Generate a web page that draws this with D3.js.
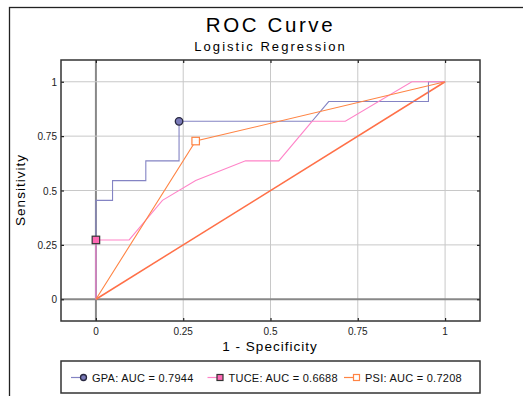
<!DOCTYPE html>
<html>
<head>
<meta charset="utf-8">
<script src="https://cdn.jsdelivr.net/npm/d3@7"></script>
<style>
html,body{margin:0;padding:0;background:#fff;overflow:hidden;}
svg{display:block;font-family:"Liberation Sans",Arial,sans-serif;}
</style>
</head>
<body>
<svg id="chart" width="523" height="396"></svg>
<script>
const titleText = "ROC Curve";
const subtitleText = "Logistic Regression";
const xLabel = "1 - Specificity";
const yLabel = "Sensitivity";
const xTicks = [0, 0.25, 0.5, 0.75, 1];
const yTicks = [0, 0.25, 0.5, 0.75, 1];
const tickLabels = ["0", "0.25", "0.5", "0.75", "1"];

const seriesNames = ["GPA: AUC = 0.7944", "TUCE: AUC = 0.6688", "PSI: AUC = 0.7208"];
const gpaFpr = [0, 0, 0.0476, 0.0476, 0.1429, 0.1429, 0.2381, 0.2381, 0.6190, 0.6667, 0.9524, 0.9524, 1];
const gpaTpr = [0, 0.4545, 0.4545, 0.5455, 0.5455, 0.6364, 0.6364, 0.8182, 0.8182, 0.9091, 0.9091, 1, 1];
const tuceFpr = [0, 0, 0.0952, 0.1905, 0.2857, 0.4286, 0.5238, 0.6190, 0.7143, 0.9048, 1];
const tuceTpr = [0, 0.2727, 0.2727, 0.4545, 0.5455, 0.6364, 0.6364, 0.8182, 0.8182, 1, 1];
const psiFpr = [0, 0.2857, 1];
const psiTpr = [0, 0.7273, 1];
const markerIndex = [7, 1, 1];
const diagFpr = [0, 1];
const diagTpr = [0, 1];

const svg = d3.select("#chart");
const L = 61, R = 480, T = 60, B = 321;
const x = d3.scaleLinear().domain([-0.1, 1.1]).range([L, R]);
const y = d3.scaleLinear().domain([-0.1, 1.1]).range([B, T]);

// outer border
svg.append("rect").attr("x", 9.5).attr("y", 7.5).attr("width", 600).attr("height", 500)
  .attr("fill", "none").attr("stroke", "#222").attr("stroke-width", 1.3);

// titles
svg.append("text").attr("x", 270.5).attr("y", 32).attr("text-anchor", "middle")
  .attr("font-size", 20.5).attr("letter-spacing", 2.6).text(titleText);
svg.append("text").attr("x", 270.5).attr("y", 51).attr("text-anchor", "middle")
  .attr("font-size", 13).attr("letter-spacing", 2.05).text(subtitleText);

// grid
const g = svg.append("g");
g.selectAll(".gx").data(xTicks).join("line")
  .attr("x1", d => x(d)).attr("x2", d => x(d)).attr("y1", T).attr("y2", B)
  .attr("stroke", d => d === 0 ? "#888" : "#c8c8c8").attr("stroke-width", d => d === 0 ? 2 : 1);
g.selectAll(".gy").data(yTicks).join("line")
  .attr("y1", d => y(d)).attr("y2", d => y(d)).attr("x1", L).attr("x2", R)
  .attr("stroke", d => d === 0 ? "#888" : "#c8c8c8").attr("stroke-width", d => d === 0 ? 2 : 1);

// axes ticks (inward) on all sides
const tk = 3;
svg.append("g").attr("transform", `translate(0,${B})`)
  .call(d3.axisTop(x).tickValues(xTicks).tickSize(tk).tickFormat(""))
  .call(a => a.select(".domain").remove());
svg.append("g").attr("transform", `translate(0,${T})`)
  .call(d3.axisBottom(x).tickValues(xTicks).tickSize(tk).tickFormat(""))
  .call(a => a.select(".domain").remove());
svg.append("g").attr("transform", `translate(${L},0)`)
  .call(d3.axisRight(y).tickValues(yTicks).tickSize(tk).tickFormat(""))
  .call(a => a.select(".domain").remove());
svg.append("g").attr("transform", `translate(${R},0)`)
  .call(d3.axisLeft(y).tickValues(yTicks).tickSize(tk).tickFormat(""))
  .call(a => a.select(".domain").remove());
svg.selectAll(".tick line").attr("stroke", "#222").attr("stroke-width", 1.2);

// tick labels
svg.selectAll(".xl").data(xTicks).join("text")
  .attr("x", d => x(d)).attr("y", 335).attr("text-anchor", "middle")
  .attr("font-size", 10).attr("fill", "#222").text((d, i) => tickLabels[i]);
svg.selectAll(".yl").data(yTicks).join("text")
  .attr("x", 57).attr("y", d => y(d) + 4).attr("text-anchor", "end")
  .attr("font-size", 10).attr("fill", "#222").text((d, i) => tickLabels[i]);

// axis titles
svg.append("text").attr("x", 270).attr("y", 351).attr("text-anchor", "middle")
  .attr("font-size", 13.5).attr("letter-spacing", 1).text(xLabel);
svg.append("text").attr("transform", "translate(25,190) rotate(-90)").attr("text-anchor", "middle")
  .attr("font-size", 13.5).attr("letter-spacing", 1).text(yLabel);

// series
const line = d3.line().x(d => x(d[0])).y(d => y(d[1]));
const zip = (a, b) => a.map((v, i) => [v, b[i]]);
const plot = svg.append("g");
plot.append("path").attr("d", line(zip(diagFpr, diagTpr)))
  .attr("fill", "none").attr("stroke", "#ff7048").attr("stroke-width", 1.5);

const series = [
  {pts: zip(gpaFpr, gpaTpr), color: "#8484c4", shape: "circle", fill: "#7a7ab8", mstroke: "#282840"},
  {pts: zip(tuceFpr, tuceTpr), color: "#ff84c8", shape: "square", fill: "#ff68b4", mstroke: "#333"},
  {pts: zip(psiFpr, psiTpr), color: "#ff8444", shape: "square", fill: "#fff", mstroke: "#ff8444"}
];
series.forEach(s => {
  plot.append("path").attr("d", line(s.pts)).attr("fill", "none")
    .attr("stroke", s.color).attr("stroke-width", 1.1);
});
function marker(sel, shape, cx, cy, size, fill, stroke) {
  if (shape === "circle") {
    sel.append("circle").attr("cx", cx).attr("cy", cy).attr("r", size / 2)
      .attr("fill", fill).attr("stroke", stroke).attr("stroke-width", 1.3);
  } else {
    sel.append("rect").attr("x", cx - size / 2).attr("y", cy - size / 2)
      .attr("width", size).attr("height", size)
      .attr("fill", fill).attr("stroke", stroke).attr("stroke-width", 1.2);
  }
}
series.forEach((s, i) => {
  const p = s.pts[markerIndex[i]];
  marker(plot, s.shape, x(p[0]), y(p[1]), 7.5, s.fill, s.mstroke);
});

// frame
svg.append("rect").attr("x", L).attr("y", T).attr("width", R - L).attr("height", B - T)
  .attr("fill", "none").attr("stroke", "#333").attr("stroke-width", 1.5);

// legend
svg.append("rect").attr("x", L).attr("y", 361).attr("width", R - L).attr("height", 32)
  .attr("fill", "#fff").attr("stroke", "#333").attr("stroke-width", 1.5);
const legX = [71, 207.5, 344];
const leg = svg.append("g");
series.forEach((s, i) => {
  const lx = legX[i], ly = 377.5;
  leg.append("line").attr("x1", lx).attr("x2", lx + 10).attr("y1", ly).attr("y2", ly)
    .attr("stroke", s.color).attr("stroke-width", 1.2);
  marker(leg, s.shape, lx + 12.5, ly, 6, s.fill, s.mstroke);
  leg.append("text").attr("x", lx + 21).attr("y", ly + 4).attr("font-size", 11)
    .attr("letter-spacing", 0.25).attr("fill", "#111").text(seriesNames[i]);
});
</script>
</body>
</html>
